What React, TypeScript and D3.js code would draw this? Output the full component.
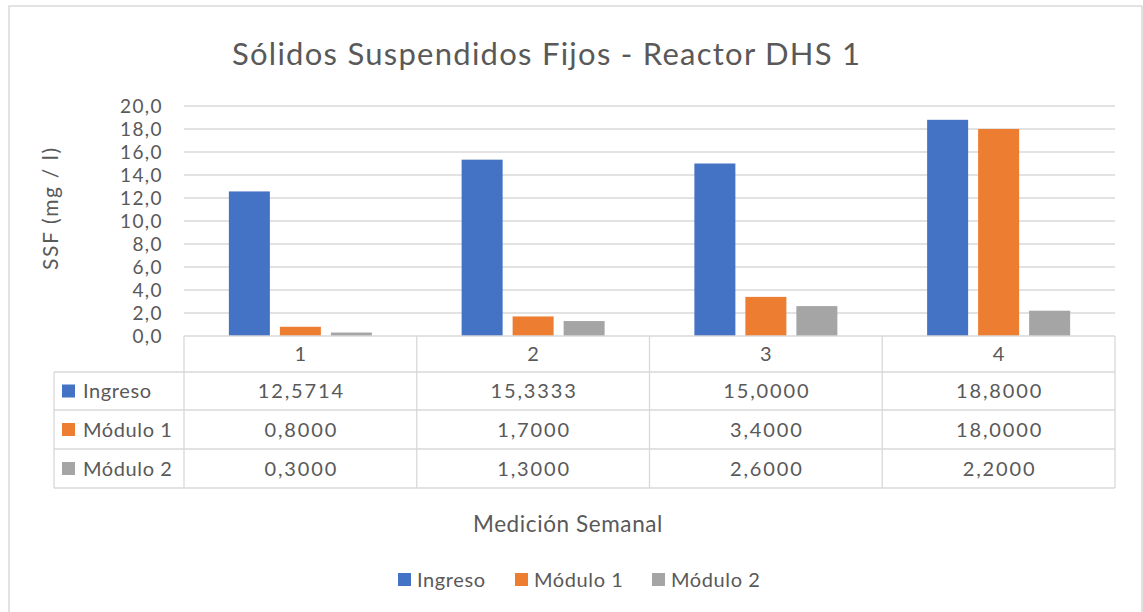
import React from "react";
import * as d3 from "d3";

const categories = ["1", "2", "3", "4"];
const seriesNames = ["Ingreso", "Módulo 1", "Módulo 2"];
const ingreso = [12.5714, 15.3333, 15.0, 18.8];
const modulo1 = [0.8, 1.7, 3.4, 18.0];
const modulo2 = [0.3, 1.3, 2.6, 2.2];
const yTicks = [0, 2, 4, 6, 8, 10, 12, 14, 16, 18, 20];
const colors = ["#4472C4", "#ED7D31", "#A5A5A5"];

const W = 1143, H = 612;
const FONT = "Lato, 'Open Sans', sans-serif";
const TXT = "#595959";
const GRID = "#D9D9D9";

export default function App() {
  const series = [ingreso, modulo1, modulo2];
  const plotL = 184, plotR = 1115, plotT = 106, plotB = 336;
  const x = d3.scaleBand<string>().domain(categories).range([plotL, plotR]).paddingInner(0).paddingOuter(0);
  const y = d3.scaleLinear().domain([0, 20]).range([plotB, plotT]);
  const barW = 41, gap = 10;
  const groupW = barW * 3 + gap * 2;
  const rowEdges = [336, 372, 410, 449, 488];
  const tableL = 54;
  const fmt = (v: number) => v.toFixed(4).replace(".", ",");
  const fmtTick = (v: number) => v.toFixed(1).replace(".", ",");
  const legendItems = [
    { x: 398, name: seriesNames[0] },
    { x: 515, name: seriesNames[1] },
    { x: 652, name: seriesNames[2] },
  ];
  return (
    <svg width={W} height={H} style={{ position: "absolute", left: 0, top: 0 }} fontFamily={FONT}>
      <rect x={0} y={0} width={W} height={H} fill="#fff" />
      <rect x={9} y={6} width={1133} height={620} fill="#fff" stroke="#D9D9D9" strokeWidth={1.5} />
      <text x={546} y={65} textAnchor="middle" fontSize={31} fill={TXT} textLength={628} lengthAdjust="spacing">
        Sólidos Suspendidos Fijos - Reactor DHS 1
      </text>
      {yTicks.map((t) => (
        <g key={t}>
          {t > 0 && <line x1={plotL} x2={plotR} y1={y(t)} y2={y(t)} stroke={GRID} strokeWidth={1.3} />}
          <text x={163} y={y(t) + 7} textAnchor="end" fontSize={19} letterSpacing={1.4} fill={TXT}>
            {fmtTick(t)}
          </text>
        </g>
      ))}
      <text transform={`translate(58,${209}) rotate(-90)`} textAnchor="middle" fontSize={21} fill={TXT} textLength={122} lengthAdjust="spacing">
        SSF (mg / l)
      </text>
      {categories.map((c, i) =>
        series.map((s, j) => {
          const x0 = (x(c) as number) + (x.bandwidth() - groupW) / 2 + j * (barW + gap);
          return (
            <rect key={c + j} x={x0} y={y(s[i])} width={barW} height={plotB - y(s[i])} fill={colors[j]} />
          );
        })
      )}
      {/* table */}
      <g stroke={GRID} strokeWidth={1.3} fill="none">
        <line x1={plotL} x2={plotR} y1={rowEdges[0]} y2={rowEdges[0]} />
        {rowEdges.slice(1).map((r) => (
          <line key={r} x1={tableL} x2={plotR} y1={r} y2={r} />
        ))}
        <line x1={tableL} x2={tableL} y1={rowEdges[1]} y2={rowEdges[4]} />
        {categories.map((c) => (
          <line key={c} x1={x(c)} x2={x(c)} y1={rowEdges[0]} y2={rowEdges[4]} />
        ))}
        <line x1={plotR} x2={plotR} y1={rowEdges[0]} y2={rowEdges[4]} />
      </g>
      {categories.map((c) => (
        <text key={c} x={(x(c) as number) + x.bandwidth() / 2} y={(rowEdges[0] + rowEdges[1]) / 2 + 7} textAnchor="middle" fontSize={20} fill={TXT}>
          {c}
        </text>
      ))}
      {series.map((s, j) => {
        const cy = (rowEdges[j + 1] + rowEdges[j + 2]) / 2;
        return (
          <g key={j}>
            <rect x={62} y={cy - 6.5} width={13} height={13} fill={colors[j]} />
            <text x={83} y={cy + 7} fontSize={20} letterSpacing={0.6} fill={TXT}>
              {seriesNames[j]}
            </text>
            {categories.map((c, i) => (
              <text key={c} x={(x(c) as number) + x.bandwidth() / 2 + 1} y={cy + 7} textAnchor="middle" fontSize={20} letterSpacing={1.9} fill={TXT}>
                {fmt(s[i])}
              </text>
            ))}
          </g>
        );
      })}
      <text x={568} y={532} textAnchor="middle" fontSize={22.5} letterSpacing={0.6} fill={TXT}>
        Medición Semanal
      </text>
      {legendItems.map((it, j) => (
        <g key={j}>
          <rect x={it.x} y={573} width={13} height={13} fill={colors[j]} />
          <text x={it.x + 19} y={587} fontSize={20} letterSpacing={0.6} fill={TXT}>
            {it.name}
          </text>
        </g>
      ))}
    </svg>
  );
}
